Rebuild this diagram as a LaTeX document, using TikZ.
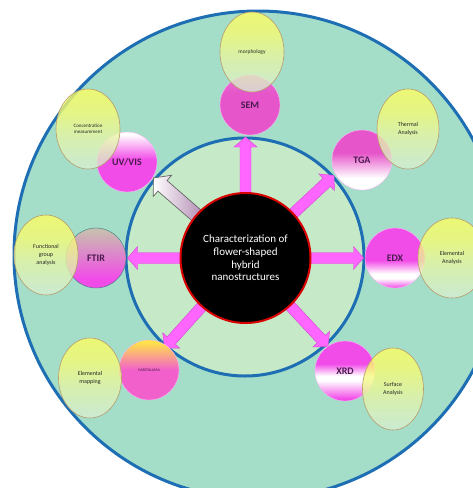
\documentclass[tikz,border=0pt]{standalone}
\usepackage{fontspec}
\setmainfont{Carlito}
\usetikzlibrary{shapes.geometric,calc}
\definecolor{ringfill}{HTML}{A4DDC8}
\definecolor{innerfill}{HTML}{C6EAC8}
\definecolor{ringblue}{HTML}{1E6EB4}
\definecolor{mag}{HTML}{F24CE8}
\definecolor{semmag}{HTML}{E656CA}
\definecolor{arrowpink}{HTML}{FF66FF}
\definecolor{arrowedge}{HTML}{D048D0}
\definecolor{labelpurple}{HTML}{4A1A4E}
\definecolor{ellyellow}{HTML}{FFFF5E}
\definecolor{ellgreen}{HTML}{D6EED6}
\definecolor{elledge}{HTML}{B89C6A}
\definecolor{ftirtop}{HTML}{C9BCB0}
\definecolor{haryellow}{HTML}{FFE24A}
\definecolor{harpink}{HTML}{F260CC}
\pgfdeclareverticalshading{edxsh}{100bp}{color(0bp)=(mag); color(25bp)=(mag); color(33bp)=(white); color(37bp)=(white); color(48bp)=(mag); color(100bp)=(mag)}
\pgfdeclareverticalshading{xrdsh}{100bp}{color(0bp)=(mag); color(27bp)=(mag); color(42bp)=(white); color(46bp)=(white); color(56bp)=(mag); color(100bp)=(mag)}
\pgfdeclareverticalshading{tgash}{100bp}{color(0bp)=(white); color(35bp)=(white); color(56bp)=(semmag); color(100bp)=(semmag)}
\pgfdeclareverticalshading{uvsh}{100bp}{color(0bp)=(mag); color(52bp)=(mag); color(73bp)=(white); color(100bp)=(white)}
\pgfdeclareverticalshading{ftirsh}{100bp}{color(0bp)=(mag); color(33bp)=(mag); color(72bp)=(ftirtop); color(100bp)=(ftirtop)}
\pgfdeclareverticalshading{harsh}{100bp}{color(0bp)=(harpink); color(50bp)=(harpink); color(73bp)=(haryellow); color(100bp)=(haryellow)}
\pgfdeclareverticalshading{semsh}{100bp}{color(0bp)=(semmag); color(60bp)=(semmag); color(75bp)=(semmag!85!white); color(100bp)=(semmag!85!white)}
\pgfdeclareverticalshading{ellsh}{100bp}{color(0bp)=(ellgreen); color(25bp)=(ellgreen); color(45bp)=(ellyellow!40!ellgreen); color(62bp)=(ellyellow!85!ellgreen); color(75bp)=(ellyellow); color(100bp)=(ellyellow)}
\tikzset{
  x=1pt, y=-1pt,
  blockarrow/.style n args={3}{to path={
    ($(\tikztostart)!#1!90:(\tikztotarget)$) --
    ($($(\tikztotarget)!#3!(\tikztostart)$)!#1!90:(\tikztotarget)$) --
    ($($(\tikztotarget)!#3!(\tikztostart)$)!#2!90:(\tikztotarget)$) --
    (\tikztotarget) --
    ($($(\tikztotarget)!#3!(\tikztostart)$)!#2!-90:(\tikztotarget)$) --
    ($($(\tikztotarget)!#3!(\tikztostart)$)!#1!-90:(\tikztotarget)$) --
    ($(\tikztostart)!#1!-90:(\tikztotarget)$) -- cycle}},
  pinkarrow/.style={fill=arrowpink, draw=arrowedge, line width=0.4pt, line join=miter, blockarrow={5.5pt}{11.5pt}{10pt}},
  greyarrow/.style={shade, shading angle=49, left color=white, right color=white!55!violet!70!gray, draw=gray!80!black, line width=0.7pt, blockarrow={7pt}{14pt}{12pt}},
  sat/.style={circle, minimum size=60pt, inner sep=0pt, draw=white!60!mag, line width=0.4pt, text=labelpurple, font=\fontsize{10}{12}\selectfont\bfseries},
  elli/.style={ellipse, minimum width=64pt, minimum height=80pt, inner sep=0pt, draw=elledge, line width=0.6pt, shading=ellsh, fill opacity=0.78, text opacity=1, text=black!85, align=center, font=\fontsize{6}{7.7}\selectfont},
}
\begin{document}
\begin{tikzpicture}
\useasboundingbox (0,0) rectangle (473,488);
\begin{scope}
\clip (0,0) rectangle (473,488);
\fill[ringfill] (258,255) circle[radius=244pt];
\draw[ringblue, line width=3pt] (258,255) circle[radius=244pt];
\fill[innerfill] (245,257) circle[radius=119pt];
\draw[ringblue, line width=3pt] (245,257) circle[radius=119pt];
\end{scope}
% centre position
\coordinate (c) at (245.5,258);
\foreach \n/\a/\r in {up/90/121, tr/43/121, rt/0/118, lf/180/118, br/-47/121, bl/-132/121, tl/139/122}{
  \coordinate (\n s) at ($(c)+(\a:60pt)$);
  \coordinate (\n e) at ($(c)+(\a:\r pt)$);
}
\draw[pinkarrow] (ups) to (upe);
\draw[pinkarrow] (trs) to (tre);
\draw[pinkarrow] (rts) to (rte);
\draw[pinkarrow] (lfs) to (lfe);
\draw[pinkarrow] (brs) to (bre);
\draw[pinkarrow] (bls) to (ble);
\draw[greyarrow] (tls) to (tle);
% core
\node[circle, fill=black, draw=red!85!black, line width=2pt, minimum size=130pt, inner sep=0pt, text=white, align=center, font=\fontsize{11}{12.7}\selectfont] (core) at (c) {Characterization of\\flower-shaped\\hybrid\\nanostructures};
% satellites
\node[sat, shading=semsh] (sem) at (250,105) {SEM};
\node[sat, shading=tgash] (tga) at (362,160) {TGA};
\node[sat, shading=uvsh] (uv) at (127,162) {UV/VIS};
\node[sat, shading=ftirsh, draw=teal!60!gray] (ftir) at (96,258) {FTIR};
\node[sat, shading=edxsh] (edx) at (395,258) {EDX};
\node[sat, shading=xrdsh] (xrd) at (345,371) {XRD};
\node[sat, shading=harsh, font=\fontsize{4}{5}\selectfont] (har) at (149,370) {HARITALAMA};
% ellipses
\node[elli, font=\fontsize{5.5}{6.5}\selectfont] (morph) at (252,52) {morphology};
\node[elli, minimum width=62pt] (therm) at (408,129) {Thermal\\Analysis};
\node[elli, font=\fontsize{5}{6.3}\selectfont] (conc) at (88,129) {Concentration\\measurement};
\node[elli] (func) at (46,255) {Functional\\group\\analysis};
\node[elli, minimum width=68pt] (elan) at (452,258) {Elemental\\Analysis};
\node[elli, minimum width=61pt, minimum height=82pt] (surf) at (393,389) {Surface\\Analysis};
\node[elli, minimum width=63pt] (elmap) at (90,378) {Elemental\\mapping};
\end{tikzpicture}
\end{document}
